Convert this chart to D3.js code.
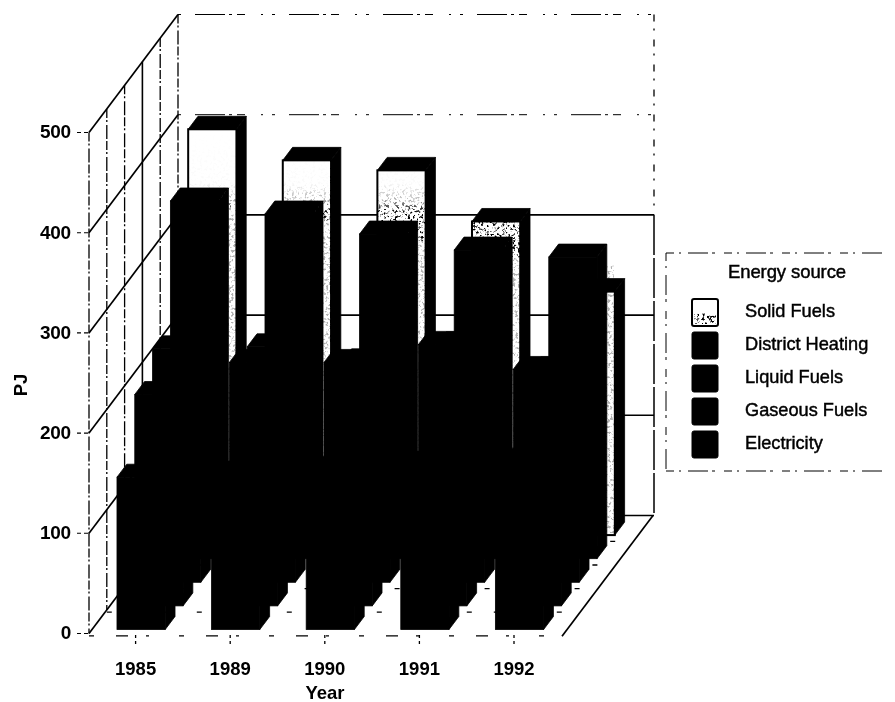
<!DOCTYPE html>
<html><head><meta charset="utf-8">
<script src="https://cdnjs.cloudflare.com/ajax/libs/d3/7.8.5/d3.min.js"></script>
<style>html,body{margin:0;padding:0;background:#fff}svg{display:block}text{font-family:"Liberation Sans",Arial,sans-serif;fill:#000}</style>
</head><body><div id="chart"></div>
<script>
const years = ["1985","1989","1990","1991","1992"];
const seriesFrontToBack = ["Electricity","Gaseous Fuels","Liquid Fuels","District Heating","Solid Fuels"];
const legendOrder = ["Solid Fuels","District Heating","Liquid Fuels","Gaseous Fuels","Electricity"];
const electricity = [152,155,160,165,168];
const gaseousFuels = [211,243,243,261,236];
const liquidFuels = [233,235,220,237,212];
const districtHeating = [357,344,324,308,301];
const solidFuels = [405,374,364,313,243];
const yTicks = [0,100,200,300,400,500];
const valuesBySeries = {"Electricity":electricity,"Gaseous Fuels":gaseousFuels,"Liquid Fuels":liquidFuels,"District Heating":districtHeating,"Solid Fuels":solidFuels};

const W=895,H=702;
const depthDX=89, depthDY=-118;
const y=d3.scaleLinear().domain([0,500]).range([634.8,133.8]);
const x=d3.scaleBand().domain(years).range([89.8,562.8]).paddingInner(.49).paddingOuter(.245);
const z=d3.scaleBand().domain(seriesFrontToBack).range([0,1]).paddingInner(.45).paddingOuter(.225);
const px=(xv,d)=>xv+d*depthDX, py=(yv,d)=>yv+d*depthDY;
const svg=d3.select("#chart").append("svg").attr("width",W).attr("height",H);
const defs=svg.append("defs");
const blur=defs.append("filter").attr("id","soft").attr("x","-5%").attr("y","-5%").attr("width","110%").attr("height","110%");
blur.append("feGaussianBlur").attr("stdDeviation",.35);
const sp=defs.append("filter").attr("id","speck").attr("x",0).attr("y",0).attr("width","100%").attr("height","100%");
sp.append("feTurbulence").attr("type","fractalNoise").attr("baseFrequency",.38).attr("numOctaves",2).attr("seed",7);
sp.append("feColorMatrix").attr("values","0 0 0 0 0  0 0 0 0 0  0 0 0 0 0  5 5 0 0 -5.2");
const grad=defs.append("linearGradient").attr("id","fade").attr("gradientUnits","userSpaceOnUse").attr("x1",0).attr("x2",0).attr("y1",130).attr("y2",540);
[[0,0],[.13,0.02],[.17,.3],[.2,1],[1,1]].forEach(([o,a])=>grad.append("stop").attr("offset",o).attr("stop-color","#fff").attr("stop-opacity",a));
defs.append("mask").attr("id","fadeMask").attr("maskUnits","userSpaceOnUse").attr("x",0).attr("y",0).attr("width",W).attr("height",H)
 .append("rect").attr("width",W).attr("height",H).attr("fill","url(#fade)");

const root=svg.append("g").attr("filter","url(#soft)");
const grid=root.append("g").attr("fill","none").attr("stroke","#000");
const X0=89,X1=562;
const depthSteps=[0,.2,.4,.6,.8,1];
const line=(x1,y1,x2,y2,w,dash)=>grid.append("line").attr("x1",x1).attr("y1",y1).attr("x2",x2).attr("y2",y2).attr("stroke-width",w).attr("stroke-dasharray",dash||null);

yTicks.forEach(t=>{
  const yy=y(t)-1.3;
  const top=t>=400;
  line(px(X0,1),py(yy,1),px(X1,1)+3,py(yy,1),top?1:1.6,top?"3 14 30 4 3 5 8 16 2 9":null);
  line(X0,yy,px(X0,1),py(yy,1),1.7);
  line(X0-12,yy,X0,yy,1.1,"4 3");
});
depthSteps.forEach((d,i)=>{
  const solid=i===3;
  line(px(X0,d),py(y(500)-1.3,d),px(X0,d),py(y(0)-1.3,d),solid?1.6:1.3,solid?null:"9 2 2 3 14 2");
});
line(px(X1,1)+3,py(y(500)-1.3,1),px(X1,1)+3,py(y(300)-1.3,1),1.3,"7 7 2 9");
line(px(X1,1)+3,py(y(300)-1.3,1),px(X1,1)+3,py(y(0)-1.3,1),1.5,"40 3");
line(X1,y(0)+1.5,px(X1,1)+2,py(y(0)-1.3,1),1.7);
depthSteps.slice(0,5).forEach(d=>line(px(X0,d),py(y(0),d)+1,px(X1,d)+3,py(y(0),d)+1,1.3,"5 22 12 18 3 30"));

const barsG=root.append("g");
[...seriesFrontToBack].reverse().forEach(s=>{
  const d0=z(s), d1=d0+z.bandwidth();
  const g=barsG.append("g").attr("class","series");
  years.forEach((yr,i)=>{
    const v=valuesBySeries[s][i];
    const xa=x(yr), xb=xa+x.bandwidth();
    const yT=y(v), yB=y(0);
    const P=(xx,yy,d)=>[px(xx,d),py(yy,d)];
    const poly=pts=>g.append("polygon").attr("points",pts.map(p=>p.join(",")).join(" ")).attr("fill","#000").attr("stroke","#000").attr("stroke-width",.8).attr("stroke-linejoin","round");
    poly([P(xb,yB,d0),P(xb,yB,d1),P(xb,yT,d1),P(xb,yT,d0)]);
    poly([P(xa,yT,d0),P(xb,yT,d0),P(xb,yT,d1),P(xa,yT,d1)]);
    const fa=P(xa,yT,d0), fb=P(xb,yB,d0);
    const isSolid=s==="Solid Fuels";
    g.append("rect").attr("x",fa[0]).attr("y",fa[1]).attr("width",fb[0]-fa[0]).attr("height",fb[1]-fa[1])
      .attr("fill",isSolid?"#fff":"#000").attr("stroke","#000").attr("stroke-width",isSolid?2:.8);
    if(isSolid){
      // dense speckle only on the part seen above the next bar, sparse on the narrow strip below it
      const split=py(y(districtHeating[i]),z("District Heating"))+6;
      g.append("g").attr("mask","url(#fadeMask)").append("rect").attr("x",fa[0]+1).attr("y",fa[1]+1).attr("width",fb[0]-fa[0]-2).attr("height",Math.max(0,split-fa[1]-1)).attr("filter","url(#speck)");
      g.append("rect").attr("x",fa[0]+1).attr("y",split).attr("width",fb[0]-fa[0]-2).attr("height",fb[1]-split-1).attr("filter","url(#speck)").attr("opacity",.3);
    }
  });
});

const labels=root.append("g");
yTicks.forEach(t=>labels.append("text").attr("x",71).attr("y",y(t)+4.5).attr("text-anchor","end").attr("font-size",19).attr("font-weight",700).attr("letter-spacing",-.2).text(t));
labels.append("text").attr("transform","translate(27,385) rotate(-90)").attr("text-anchor","middle").attr("font-size",18.5).attr("font-weight",700).text("PJ");
const mid=yr=>x(yr)+x.bandwidth()/2-1.5;
years.forEach(yr=>{
  root.append("line").attr("x1",mid(yr)).attr("x2",mid(yr)).attr("y1",635).attr("y2",646).attr("stroke","#000").attr("stroke-width",1.3).attr("stroke-dasharray","3 3");
  labels.append("text").attr("x",mid(yr)).attr("y",675).attr("text-anchor","middle").attr("font-size",18.5).attr("font-weight",700).text(yr);
});
labels.append("text").attr("x",325).attr("y",699).attr("text-anchor","middle").attr("font-size",18.5).attr("font-weight",700).text("Year");

const leg=root.append("g");
const legDash="8 5 2 7 20 4 3 9";
[[666,253,886,253],[666,253,666,471],[666,471,886,471]].forEach(([a,b,c,e])=>leg.append("line").attr("x1",a).attr("y1",b).attr("x2",c).attr("y2",e).attr("stroke","#000").attr("stroke-width",1).attr("stroke-dasharray",legDash));
leg.append("text").attr("x",787).attr("y",278).attr("text-anchor","middle").attr("font-size",18.5).attr("letter-spacing",-.1).attr("stroke","#000").attr("stroke-width",.45).text("Energy source");
const ly=d3.scalePoint().domain(legendOrder).range([299,431]);
legendOrder.forEach(s=>{
  const solid=s==="Solid Fuels";
  leg.append("rect").attr("x",692).attr("y",ly(s)).attr("width",26).attr("height",27).attr("rx",2).attr("fill",solid?"#fff":"#000").attr("stroke","#000").attr("stroke-width",solid?2:1);
  if(solid){
    leg.append("rect").attr("x",694).attr("y",ly(s)+14).attr("width",22).attr("height",11).attr("filter","url(#speck)");
  }
  leg.append("text").attr("x",745).attr("y",ly(s)+18).attr("font-size",18.2).attr("stroke","#000").attr("stroke-width",.45).text(s);
});
</script></body></html>
